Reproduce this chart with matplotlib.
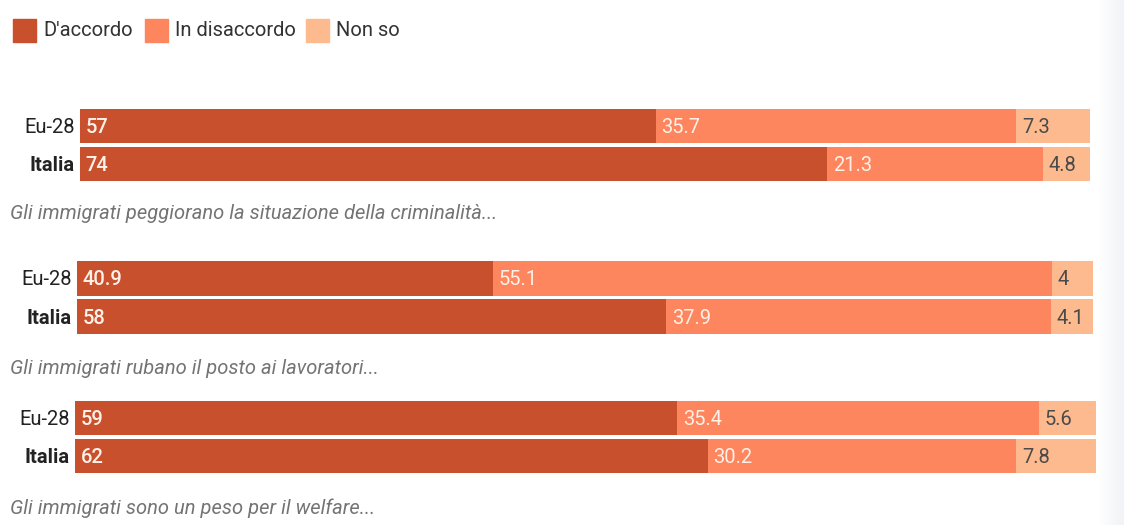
import matplotlib
matplotlib.use('Agg')
import matplotlib.pyplot as plt
import numpy as np
from matplotlib.patches import Rectangle

#region Data

series_name = ["D'accordo", 'In disaccordo', 'Non so']
row_labels = ['Eu-28', 'Italia']
captions = [
    'Gli immigrati peggiorano la situazione della criminalità...',
    'Gli immigrati rubano il posto ai lavoratori...',
    'Gli immigrati sono un peso per il welfare...',
]

# one list per group: [Eu-28, Italia], each row = d'accordo, disaccordo, non so
crimine = [[57, 35.7, 7.3], [74, 21.3, 4.8]]
lavoro = [[40.9, 55.1, 4], [58, 37.9, 4.1]]
welfare = [[59, 35.4, 5.6], [62, 30.2, 7.8]]
groups = [crimine, lavoro, welfare]

#endregion

#region Style

colors = ['#c8502d', '#fd865e', '#fdba8e']
label_colors = ['#fff1e8', '#fff1e8', '#4a4a4a']
plt.rcParams['font.family'] = ['Roboto', 'DejaVu Sans']
fs = 14.5

W, H = 1124, 525
fig = plt.figure(figsize=(W / 100, H / 100), dpi=100)
fig.patch.set_facecolor('white')


def px(x0, y0, x1, y1):
    # pixel box (top-left origin) -> figure fraction
    return [x0 / W, 1 - y1 / H, (x1 - x0) / W, (y1 - y0) / H]

#endregion

#region Light strip on the right

strip = fig.add_axes(px(1098, 0, W, H))
grad = np.linspace(0, 1, 50).reshape(1, -1)
strip.imshow(grad, aspect='auto', cmap=matplotlib.colors.LinearSegmentedColormap.from_list(
    'strip', ['#ffffff', '#f2f3f6']), extent=[0, 1, 0, 1])
strip.axis('off')

#endregion

#region Legend

leg_x = [13, 145, 306]
for i, name in enumerate(series_name):
    fig.patches.append(Rectangle((leg_x[i] / W, 1 - 42 / H), 23 / W, 23 / H,
                                 transform=fig.transFigure, color=colors[i]))
    fig.text((leg_x[i] + 30) / W, 1 - 31 / H, name, fontsize=fs,
             color='#333333', va='center', ha='left')

#endregion

#region Bars

boxes = [(80, 107, 1090, 183), (77, 259, 1093, 336), (75, 399, 1096, 475)]
caption_y = [214, 368, 508]

for g, data in enumerate(groups):
    ax = fig.add_axes(px(*boxes[g]))
    ax.set_xlim(0, 100)
    ax.set_ylim(-0.5, 1.5)
    ax.axis('off')
    for r, row in enumerate(data):
        y = 1 - r
        left = 0
        for k, v in enumerate(row):
            ax.barh(y, v, left=left, height=0.9, color=colors[k], linewidth=0)
            ax.annotate(f'{v:g}', (left, y), xytext=(4, -1), textcoords='offset points',
                        ha='left', va='center', fontsize=fs, color=label_colors[k],
                        fontweight='medium' if k == 0 else 'normal')
            left += v
        ax.annotate(row_labels[r], (0, y), xytext=(-4, -1), textcoords='offset points',
                    ha='right', va='center', fontsize=fs, color='#222222',
                    fontweight='bold' if r == 1 else 'normal')
    fig.text(10 / W, 1 - caption_y[g] / H, captions[g], fontsize=fs,
             style='italic', color='#747474', va='center', ha='left')

#endregion

fig.savefig('out.png', dpi=100, facecolor='white')
